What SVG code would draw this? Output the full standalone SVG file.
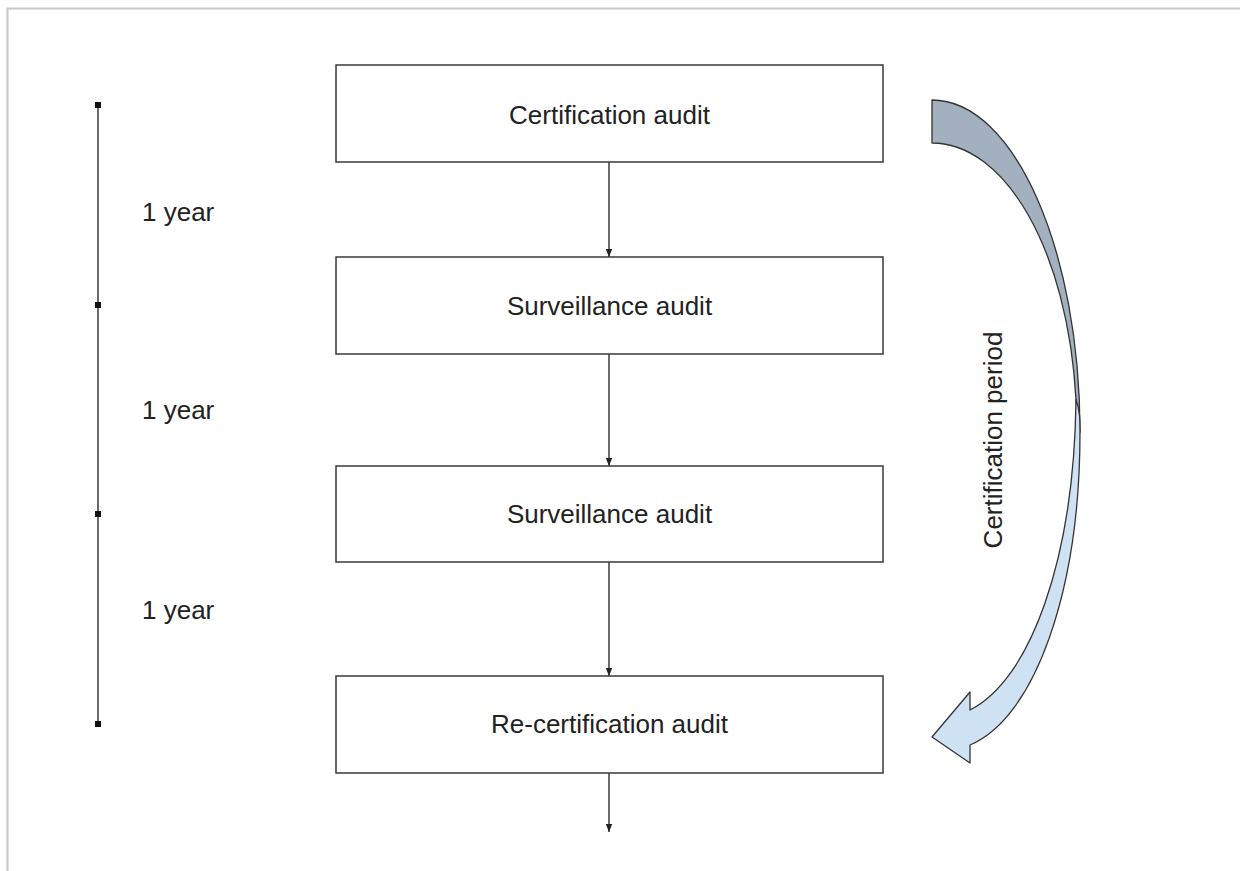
<svg xmlns="http://www.w3.org/2000/svg" width="1240" height="871" viewBox="0 0 1240 871">
<style>
.box{fill:#ffffff;stroke:#3a3a3a;stroke-width:1.5}
.lbl{font-family:"Liberation Sans",Arial,sans-serif;font-size:26px;fill:#222222}
.conn{stroke:#3a3a3a;stroke-width:1.5;fill:none}
.tick{fill:#111111}
</style>
<defs>
<marker id="ah" viewBox="0 0 10 10" refX="10" refY="5" markerWidth="8" markerHeight="8" markerUnits="userSpaceOnUse" orient="auto">
<path d="M0,1 L10,5 L0,9 Z" fill="#222222"/>
</marker>
</defs>
<rect x="0" y="0" width="1240" height="871" fill="#ffffff"/>
<path d="M7.5,871 V8.5 H1240" fill="none" stroke="#c8c8c8" stroke-width="2"/>

<g id="timeline">
<line x1="98" y1="105" x2="98" y2="725" stroke="#3a3a3a" stroke-width="1.5"/>
<rect class="tick" x="95" y="102" width="6" height="6"/>
<rect class="tick" x="95" y="302" width="6" height="6"/>
<rect class="tick" x="95" y="511" width="6" height="6"/>
<rect class="tick" x="95" y="721" width="6" height="6"/>
<text class="lbl" x="142" y="221">1 year</text>
<text class="lbl" x="142" y="419">1 year</text>
<text class="lbl" x="142" y="619">1 year</text>
</g>

<g id="connectors">
<line class="conn" x1="609" y1="162" x2="609" y2="257" marker-end="url(#ah)"/>
<line class="conn" x1="609" y1="354" x2="609" y2="466" marker-end="url(#ah)"/>
<line class="conn" x1="609" y1="562" x2="609" y2="676" marker-end="url(#ah)"/>
<line class="conn" x1="609" y1="773" x2="609" y2="832" marker-end="url(#ah)"/>
</g>

<g id="node-certification">
<rect class="box" x="336" y="65" width="547" height="97"/>
<text class="lbl" x="609.5" y="124" text-anchor="middle">Certification audit</text>
</g>
<g id="node-surveillance1">
<rect class="box" x="336" y="257" width="547" height="97"/>
<text class="lbl" x="609.5" y="315" text-anchor="middle">Surveillance audit</text>
</g>
<g id="node-surveillance2">
<rect class="box" x="336" y="466" width="547" height="96"/>
<text class="lbl" x="609.5" y="523" text-anchor="middle">Surveillance audit</text>
</g>
<g id="node-recertification">
<rect class="box" x="336" y="676" width="547" height="97"/>
<text class="lbl" x="609.5" y="733" text-anchor="middle">Re-certification audit</text>
</g>

<g id="certification-period">
<path d="M932,100 C1014,100 1080,250 1080,432 C1079,420 1078,410 1076,400 C1068,250 1005,143 932,143 Z" fill="#a2b0c0" stroke="#333333" stroke-width="1.3" stroke-linejoin="round"/>
<path d="M1076,400 C1080,410 1080,420 1080,432 C1080,590 1035,718 970,745 L970,763 L932,737 L970,692 L970,710 C1030,680 1074,560 1076,400 Z" fill="#cfe2f3" stroke="#333333" stroke-width="1.3" stroke-linejoin="round"/>
<text class="lbl" transform="translate(1002,440) rotate(-90)" text-anchor="middle">Certification period</text>
</g>
</svg>
